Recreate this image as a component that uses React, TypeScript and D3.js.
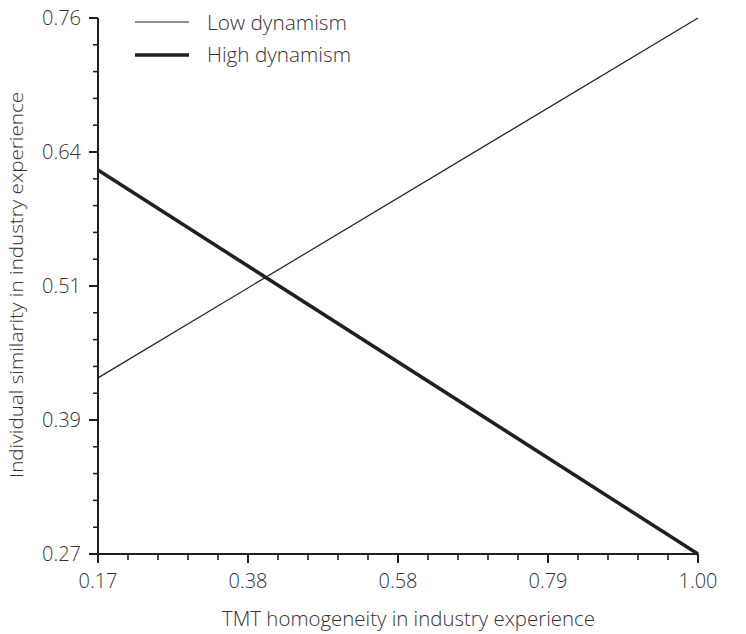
import React from "react";
import * as d3 from "d3";

const xDomain = [0.17, 1.0];
const yDomain = [0.27, 0.76];
const xTickValues = [0.17, 0.3775, 0.585, 0.7925, 1.0];
const xTickLabels = ["0.17", "0.38", "0.58", "0.79", "1.00"];
const yTickValues = [0.27, 0.3925, 0.515, 0.6375, 0.76];
const yTickLabels = ["0.27", "0.39", "0.51", "0.64", "0.76"];
const lowX = [0.17, 1.0];
const lowY = [0.431, 0.76];
const highX = [0.17, 1.0];
const highY = [0.621, 0.27];
const seriesNames = ["Low dynamism", "High dynamism"];

const W = 746, H = 634;
const left = 98, right = 698, top = 18, bottom = 554;
const font = "'Open Sans', Lato, sans-serif";
const ink = "#231f20";
const textColor = "#333333";

export default function App() {
  const x = d3.scaleLinear().domain(xDomain).range([left, right]);
  const y = d3.scaleLinear().domain(yDomain).range([bottom, top]);
  const line = d3.line<[number, number]>().x(d => x(d[0])).y(d => y(d[1]));
  const low = lowX.map((v, i) => [v, lowY[i]] as [number, number]);
  const high = highX.map((v, i) => [v, highY[i]] as [number, number]);

  const minorX: number[] = [];
  for (let i = 0; i < xTickValues.length - 1; i++) {
    const a = xTickValues[i], b = xTickValues[i + 1];
    for (let k = 1; k < 5; k++) minorX.push(a + ((b - a) * k) / 5);
  }
  const minorY: number[] = [];
  for (let i = 0; i < yTickValues.length - 1; i++) {
    const a = yTickValues[i], b = yTickValues[i + 1];
    for (let k = 1; k < 5; k++) minorY.push(a + ((b - a) * k) / 5);
  }

  return (
    <svg width={W} height={H} style={{ position: "absolute", left: 0, top: 0, background: "#fff" }}>
      {/* axes */}
      <line x1={left} x2={left} y1={top} y2={bottom} stroke={ink} strokeWidth={2} />
      <line x1={left} x2={right} y1={bottom} y2={bottom} stroke={ink} strokeWidth={2} />
      {yTickValues.map((v, i) => (
        <g key={"yt" + i}>
          <line x1={left - 9} x2={left} y1={y(v)} y2={y(v)} stroke={ink} strokeWidth={2} />
          <text x={81} y={y(v) + 7} textAnchor="end" fontFamily={font} fontWeight={300} fontSize={20} fill={textColor}>
            {yTickLabels[i]}
          </text>
        </g>
      ))}
      {minorY.map((v, i) => (
        <line key={"ym" + i} x1={left - 5} x2={left} y1={y(v)} y2={y(v)} stroke={ink} strokeWidth={1.6} />
      ))}
      {xTickValues.map((v, i) => (
        <g key={"xt" + i}>
          <line x1={x(v)} x2={x(v)} y1={bottom} y2={bottom + 9} stroke={ink} strokeWidth={2} />
          <text x={x(v)} y={588} textAnchor="middle" fontFamily={font} fontWeight={300} fontSize={20} fill={textColor}>
            {xTickLabels[i]}
          </text>
        </g>
      ))}
      {minorX.map((v, i) => (
        <line key={"xm" + i} x1={x(v)} x2={x(v)} y1={bottom} y2={bottom + 6} stroke={ink} strokeWidth={1.6} />
      ))}
      {/* series */}
      <path d={line(low) || ""} fill="none" stroke={ink} strokeWidth={1.2} />
      <path d={line(high) || ""} fill="none" stroke={ink} strokeWidth={3.5} />
      {/* legend */}
      <line x1={135} x2={189} y1={22} y2={22} stroke={ink} strokeWidth={1.2} />
      <text x={207} y={30} textLength={140} lengthAdjust="spacingAndGlyphs" fontFamily={font} fontWeight={300} fontSize={21} fill={textColor}>{seriesNames[0]}</text>
      <line x1={135} x2={189} y1={55} y2={55} stroke={ink} strokeWidth={3.5} />
      <text x={207} y={62} textLength={144} lengthAdjust="spacingAndGlyphs" fontFamily={font} fontWeight={300} fontSize={21} fill={textColor}>{seriesNames[1]}</text>
      {/* axis titles */}
      <text x={222} y={626} textLength={373} lengthAdjust="spacingAndGlyphs" fontFamily={font} fontWeight={300} fontSize={21} fill={textColor}>
        TMT homogeneity in industry experience
      </text>
      <text transform={`translate(23, 478) rotate(-90)`} textLength={386} lengthAdjust="spacingAndGlyphs" fontFamily={font} fontWeight={300} fontSize={19} fill={textColor}>
        Individual similarity in industry experience
      </text>
    </svg>
  );
}
